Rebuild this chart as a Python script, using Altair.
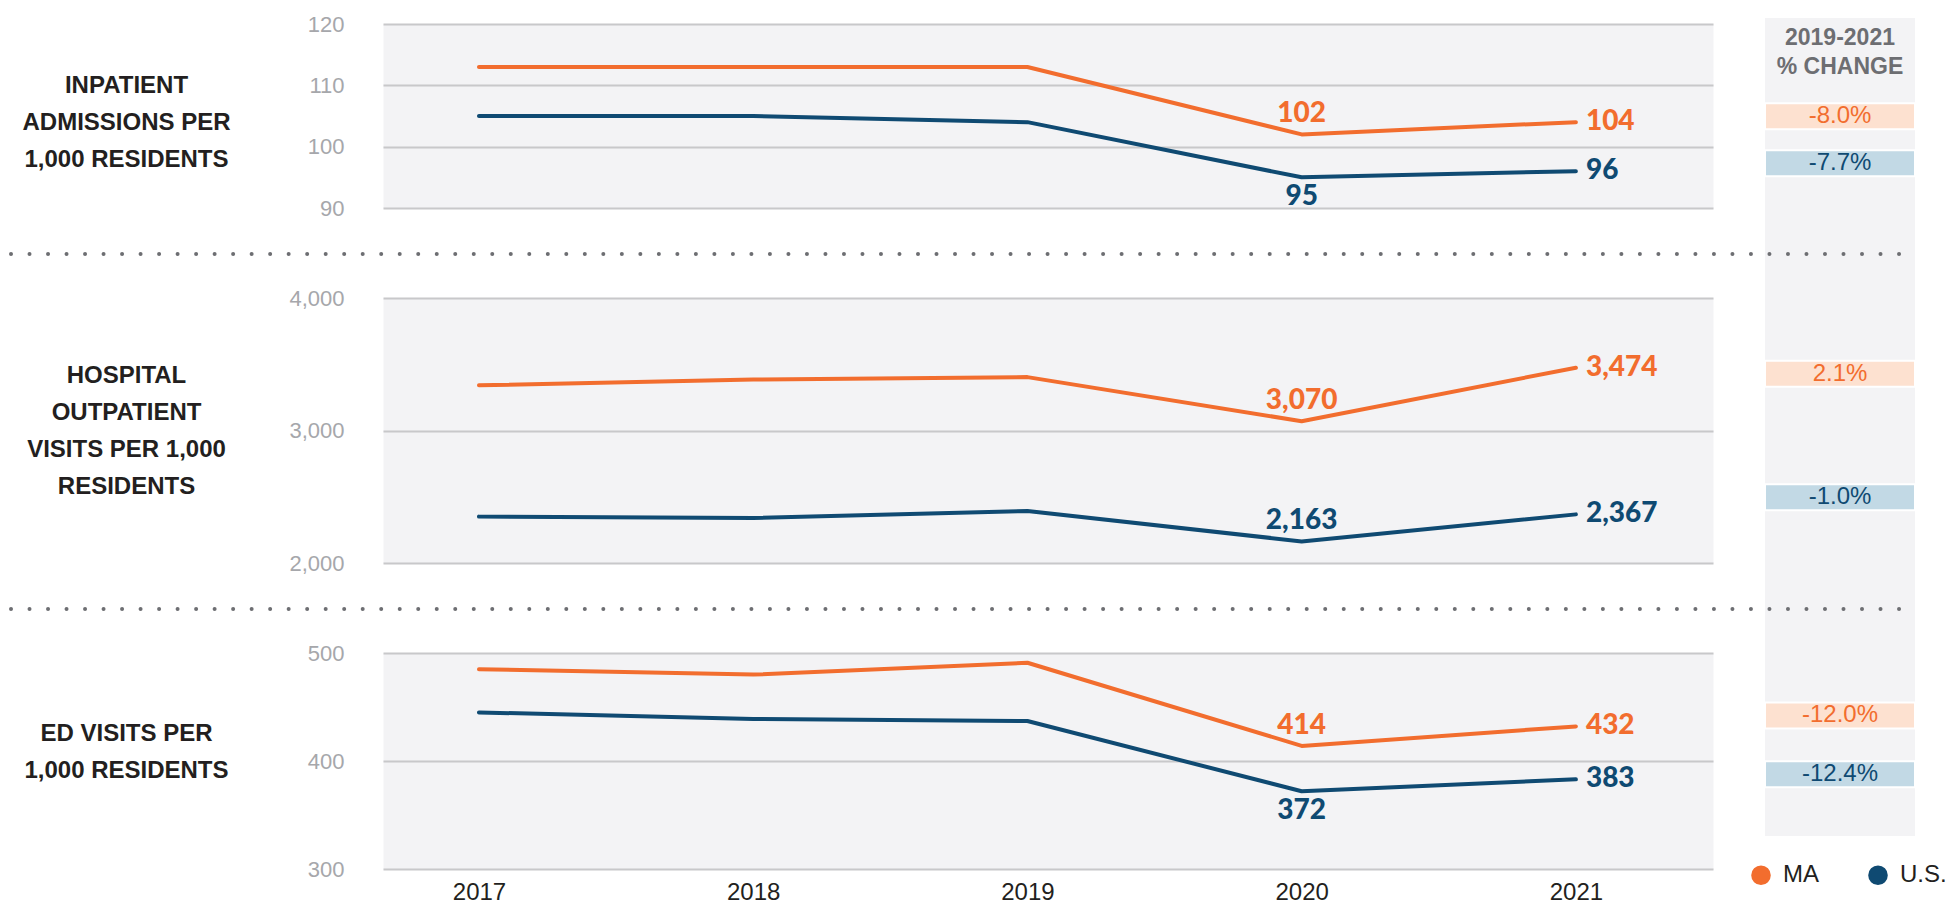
import altair as alt
import pandas as pd

# ---------------- data ----------------
years = [2017, 2018, 2019, 2020, 2021]
series = ["MA", "U.S."]

inpatient_ma = [113, 113, 113, 102, 104]
inpatient_us = [105, 105, 104, 95, 96]
outpatient_ma = [3341, 3384, 3403, 3070, 3474]
outpatient_us = [2350, 2340, 2392, 2163, 2367]
ed_ma = [485, 480, 491, 414, 432]
ed_us = [445, 439, 437, 372, 383]

row_titles = [
    ["INPATIENT", "ADMISSIONS PER", "1,000 RESIDENTS"],
    ["HOSPITAL", "OUTPATIENT", "VISITS PER 1,000", "RESIDENTS"],
    ["ED VISITS PER", "1,000 RESIDENTS"],
]
y_domains = [[90, 120], [2000, 4000], [300, 500]]
y_ticks = [[90, 100, 110, 120], [2000, 3000, 4000], [300, 400, 500]]
change_ma = ["-8.0%", "2.1%", "-12.0%"]
change_us = ["-7.7%", "-1.0%", "-12.4%"]
change_header = ["2019-2021", "% CHANGE"]
us_2020_label_side = ["below", "above", "below"]

# ---------------- style / layout ----------------
ORANGE = "#f26d2e"
NAVY = "#0f4a72"
PEACH = "#fde1d0"
LBLUE = "#c2d9e5"
BG = "#f3f3f5"
GRID = "#c8c8ca"
YLAB = "#a6a7ab"
HEAD = "#6d6e72"
DOTC = "#6d6e72"
INK = "#231f20"
FONT = "Liberation Sans"
LFONT = "Lato"

W = 1330
HEIGHTS = [184, 265, 216]
SP = 90
COL_X1, COL_X2, COL_C = 1382, 1532, 1457
TITLE_X = -257
TITLE_Y = [61, 77, 80]          # first line of each row label (px below panel top)
BADGE_DY = [[-6, -8], [6, -17], [-11, -5]]   # badge offsets (px) from the 2021 level

one = pd.DataFrame({"k": [0]})


def make_panel(i, ma, us):
    h = HEIGHTS[i]
    df = pd.DataFrame({
        "year": years * 2,
        "value": ma + us,
        "series": ["MA"] * 5 + ["U.S."] * 5,
    })
    df["label"] = [f"{v:,}" for v in df["value"]]
    df["side"] = ["above"] * 5 + [us_2020_label_side[i]] * 5

    if i == 2:
        xaxis = alt.Axis(values=years, format="d", title=None, grid=False,
                         labelFontSize=24, labelColor=INK, labelPadding=11,
                         labelFont=FONT, domain=False, ticks=False)
    else:
        xaxis = None
    xenc = alt.X("year:Q", scale=alt.Scale(domain=[2016.65, 2021.5], nice=False, zero=False),
                 axis=xaxis)
    yenc = alt.Y("value:Q", scale=alt.Scale(domain=y_domains[i], nice=False, zero=False),
                 axis=alt.Axis(values=y_ticks[i], format=",d", title=row_titles[i],
                               titleAngle=0, titleAlign="center", titleBaseline="middle",
                               titleX=TITLE_X, titleY=TITLE_Y[i], titleLineHeight=37,
                               titleFont=FONT, titleFontSize=24, titleFontWeight="bold",
                               titleColor=INK, labelFont=FONT, labelFontSize=22,
                               labelColor=YLAB, labelPadding=39, domain=False, ticks=False,
                               grid=True, gridColor=GRID, gridWidth=2))
    if i == 2:
        legend = alt.Legend(orient="none", legendX=1366, legendY=210, direction="horizontal",
                            title=None, symbolType="circle", symbolSize=96,
                            symbolStrokeWidth=9.8, labelFontSize=24, labelFont=FONT,
                            labelColor=INK, labelOffset=10, columnPadding=34, padding=0)
    else:
        legend = None
    cenc = alt.Color("series:N", scale=alt.Scale(domain=series, range=[ORANGE, NAVY]),
                     legend=legend)

    layers = []
    if i == 0:
        layers.append(alt.Chart(one).mark_rect(color=BG).encode(
            x=alt.value(COL_X1), x2=alt.value(COL_X2), y=alt.value(-6), y2=alt.value(812)))
        layers.append(alt.Chart(one).mark_text(
            font=FONT, fontSize=23, fontWeight="bold", color=HEAD, lineHeight=29,
            align="center", baseline="middle").encode(
            x=alt.value(COL_C), y=alt.value(14), text=alt.value(change_header)))
    if i < 2:
        layers.append(alt.Chart(one).mark_rule(
            color=DOTC, strokeWidth=4, strokeDash=[0.01, 18.5], strokeCap="round").encode(
            x=alt.value(-372), x2=alt.value(1529), y=alt.value(h + SP / 2 + 1)))

    base = alt.Chart(df).encode(x=xenc, y=yenc, color=cenc)
    layers.append(base.mark_line(strokeWidth=4, strokeCap="round", strokeJoin="round"))

    lab = dict(font=LFONT, fontSize=28, fontWeight=900)
    layers.append(base.transform_filter("datum.year == 2021").mark_text(
        align="left", baseline="middle", dx=10, **lab).encode(text="label:N"))
    layers.append(base.transform_filter("datum.year == 2020 && datum.side == 'above'").mark_text(
        align="center", baseline="middle", dy=-20, **lab).encode(text="label:N"))
    layers.append(base.transform_filter("datum.year == 2020 && datum.side == 'below'").mark_text(
        align="center", baseline="middle", dy=20, **lab).encode(text="label:N"))

    # 2019-2021 % change badges, placed at the level of each series' 2021 value
    for j, (s, v, pct) in enumerate(zip(series, [ma[4], us[4]], [change_ma[i], change_us[i]])):
        bdf = pd.DataFrame({"series": [s], "value": [v], "pct": [pct]})
        dy = BADGE_DY[i][j]
        layers.append(alt.Chart(bdf).mark_tick(
            orient="horizontal", size=COL_X2 - COL_X1, thickness=26, yOffset=dy,
            stroke="white", strokeWidth=2, opacity=1).encode(
            x=alt.value(COL_C), y=yenc,
            fill=alt.Fill("series:N", scale=alt.Scale(domain=series, range=[PEACH, LBLUE]),
                          legend=None)))
        layers.append(alt.Chart(bdf).mark_text(
            font=FONT, fontSize=24, dy=dy, align="center", baseline="middle").encode(
            x=alt.value(COL_C), y=yenc, text="pct:N", color=cenc))

    return alt.layer(*layers).properties(width=W, height=h)


panels = [
    make_panel(0, inpatient_ma, inpatient_us),
    make_panel(1, outpatient_ma, outpatient_us),
    make_panel(2, ed_ma, ed_us),
]

chart = alt.vconcat(*panels, spacing=SP).resolve_scale(
    color="independent", fill="independent", y="independent", x="independent"
).resolve_legend(color="independent").properties(
    bounds="flush", padding={"left": 0, "top": 4, "right": 0, "bottom": 0}
).configure(font=FONT).configure_view(fill=BG, stroke="transparent")

chart.save("out.html", embed_options={"renderer": "svg", "actions": False})
